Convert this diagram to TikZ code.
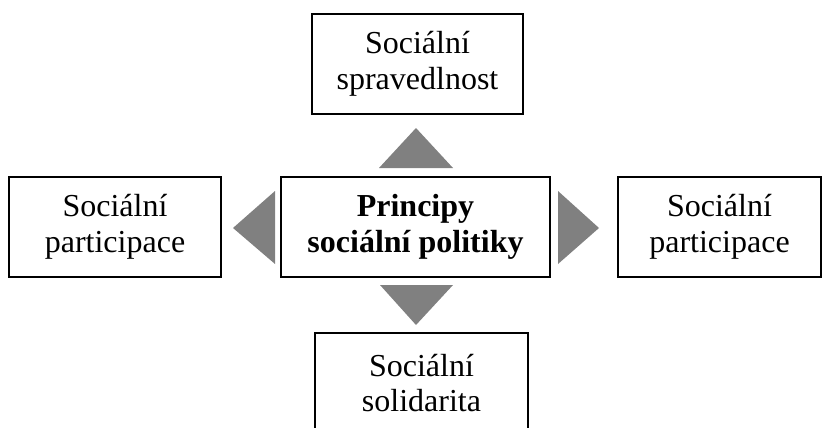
\documentclass[tikz,border=0pt]{standalone}
\usepackage{fontspec}
\setmainfont{Liberation Serif}
\usepackage{tikz}

\begin{document}
\begin{tikzpicture}[x=1pt,y=-1pt,
  box/.style={draw, line width=1.3pt, inner sep=0pt, align=center,
    minimum height=100pt, font=\fontsize{32}{35.5}\selectfont},
  tri/.style={fill=black!50}]
  \useasboundingbox (0,0) rectangle (822,428);
  \clip (0,0) rectangle (822,428);
  \node [box, minimum width=269pt, font=\fontsize{32}{35.5}\selectfont\bfseries] at (415.5,227) (pr) {Principy\\sociální politiky};
  \node [box, minimum width=211pt] at (417.5,64) (sp) {Sociální\\spravedlnost};
  \node [box, minimum width=212pt] at (115,227) (pl) {Sociální\\participace};
  \node [box, minimum width=203pt] at (719.5,227) (pp) {Sociální\\participace};
  \node [box, minimum width=213pt] at (421.5,383) (so) {Sociální\\solidarita};
  \fill [tri] (379,168) -- (453,168) -- (416,128) -- cycle;
  \fill [tri] (275,191) -- (275,264) -- (233,228) -- cycle;
  \fill [tri] (558,191) -- (558,264) -- (599,228) -- cycle;
  \fill [tri] (380,285) -- (453,285) -- (416,325) -- cycle;
\end{tikzpicture}
\end{document}
